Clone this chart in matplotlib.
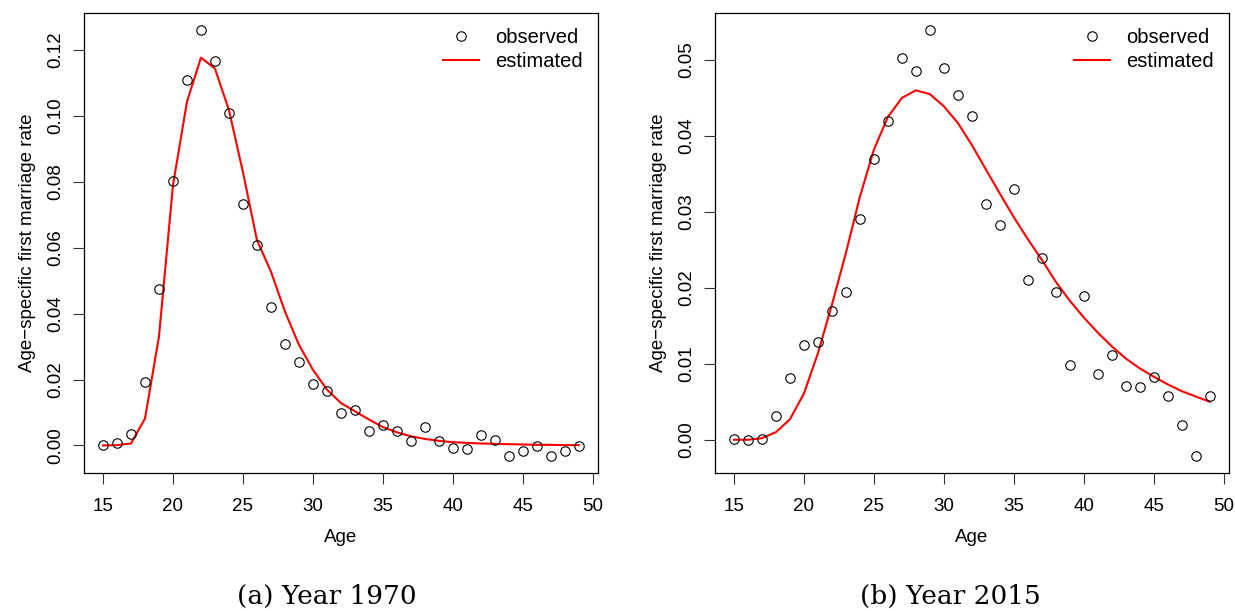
import matplotlib
matplotlib.use("Agg")
import matplotlib.pyplot as plt
import numpy as np

plt.rcParams['font.family'] = ['Liberation Sans', 'DejaVu Sans']

# Ages 15..49
ages = list(range(15, 50))

# Year 1970
obs_1970 = [0.0000, 0.0007, 0.0036, 0.0192, 0.0474, 0.0803, 0.1109, 0.1260, 0.1166, 0.1009,
            0.0733, 0.0607, 0.0421, 0.0309, 0.0252, 0.0188, 0.0165, 0.0100, 0.0107, 0.0045,
            0.0062, 0.0045, 0.0013, 0.0057, 0.0014, -0.0009, -0.0011, 0.0033, 0.0017, -0.0031,
            -0.0017, -0.0002, -0.0031, -0.0017, -0.0002]
est_1970 = [0.0000, 0.0001, 0.0006, 0.0082, 0.0331, 0.0790, 0.1043, 0.1177, 0.1144, 0.1018,
            0.0830, 0.0624, 0.0528, 0.0407, 0.0306, 0.0230, 0.0170, 0.0129, 0.0104, 0.0079,
            0.0056, 0.0040, 0.0028, 0.0020, 0.0014, 0.0010, 0.0008, 0.0006, 0.0005, 0.0004,
            0.0003, 0.0002, 0.0002, 0.0001, 0.0001]

# Year 2015
obs_2015 = [0.0001, 0.0000, 0.0001, 0.0031, 0.0081, 0.0125, 0.0129, 0.0169, 0.0195, 0.0291,
            0.0370, 0.0419, 0.0503, 0.0486, 0.0539, 0.0489, 0.0454, 0.0426, 0.0311, 0.0283,
            0.0330, 0.0210, 0.0239, 0.0195, 0.0098, 0.0189, 0.0086, 0.0112, 0.0071, 0.0070,
            0.0083, 0.0057, 0.0020, -0.0021, 0.0058]
est_2015 = [0.0000, 0.0000, 0.0002, 0.0010, 0.0027, 0.0061, 0.0114, 0.0178, 0.0246, 0.0320,
            0.0382, 0.0425, 0.0450, 0.0460, 0.0455, 0.0439, 0.0417, 0.0388, 0.0356, 0.0324,
            0.0293, 0.0264, 0.0237, 0.0208, 0.0183, 0.0161, 0.0141, 0.0123, 0.0107, 0.0094,
            0.0083, 0.0073, 0.0064, 0.0057, 0.0050]

panels = [
    ("(a) Year 1970", obs_1970, est_1970, np.arange(0, 0.121, 0.02)),
    ("(b) Year 2015", obs_2015, est_2015, np.arange(0, 0.051, 0.01)),
]

W, H = 1235, 611
fig = plt.figure(figsize=(W / 100, H / 100), dpi=100)

# axes box edges in pixels, plus where the caption sits under each panel
boxes = [(84, 597.7, 327), (715, 1228.7, 950)]
top, bottom = 13.3, 472.7

for (caption, obs, est, yt), (x0, x1, cx) in zip(panels, boxes):
    ax = fig.add_axes([x0 / W, (H - bottom) / H, (x1 - x0) / W, (bottom - top) / H])
    ax.plot(ages, est, color='red', lw=1.5, label='estimated', zorder=2)
    ax.plot(ages, obs, ls='none', marker='o', ms=6.8, mfc='none', mec='black',
            mew=0.8, label='observed', zorder=3)

    # R style 4% padding
    lo, hi = min(min(obs), min(est)), max(max(obs), max(est))
    pad = 0.04 * (hi - lo)
    ax.set_ylim(lo - pad, hi + pad)
    ax.set_xlim(15 - 0.04 * 34, 49 + 0.04 * 34)

    ax.set_xticks(range(15, 51, 5))
    ax.set_yticks(yt)
    ax.set_yticklabels(["%.2f" % v for v in yt], rotation=90, va='center')
    ax.tick_params(length=8, width=0.8, labelsize=13.5, color='#333333')
    ax.tick_params(axis='x', pad=10)
    ax.tick_params(axis='y', pad=6)
    for s in ax.spines.values():
        s.set_linewidth(0.9)

    ax.set_xlabel('Age', fontsize=13.5, labelpad=10)
    ax.set_ylabel('Age\u2212specific first marriage rate', fontsize=13.5, labelpad=8)

    h, l = ax.get_legend_handles_labels()
    ax.legend([h[1], h[0]], [l[1], l[0]], loc='upper right', frameon=False,
              fontsize=14.5, handlelength=1.8, handletextpad=0.8,
              borderaxespad=0.35, labelspacing=0.22)

    fig.text(cx / W, 1 - 596 / H, caption, ha='center', va='center',
             fontsize=19, family='DejaVu Serif')

fig.savefig('out.png', dpi=100)
